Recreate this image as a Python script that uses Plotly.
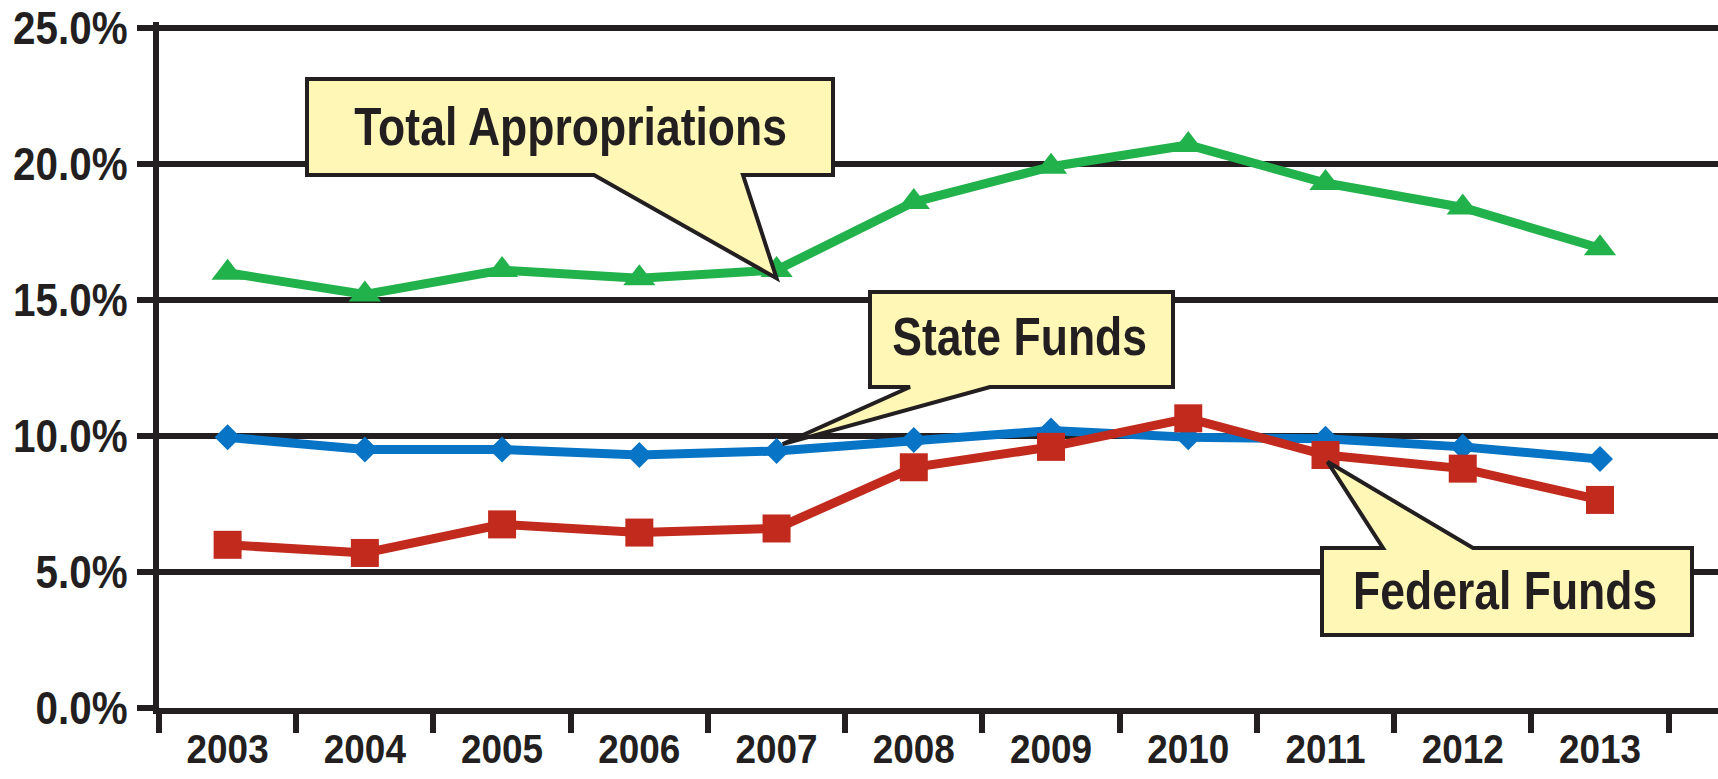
import plotly.graph_objects as go

years = ["2003", "2004", "2005", "2006", "2007", "2008", "2009", "2010", "2011", "2012", "2013"]
total = [16.0, 15.2, 16.1, 15.8, 16.1, 18.6, 19.9, 20.7, 19.3, 18.4, 16.9]
state = [9.95, 9.5, 9.5, 9.3, 9.45, 9.85, 10.2, 9.95, 9.9, 9.6, 9.15]
federal = [6.0, 5.7, 6.75, 6.45, 6.6, 8.85, 9.6, 10.65, 9.3, 8.8, 7.65]
ytick_vals = [0, 5, 10, 15, 20, 25]
ytick_text = ["0.0%", "5.0%", "10.0%", "15.0%", "20.0%", "25.0%"]

W, H = 1718, 779
ML, MR, MT, MB = 159, 0, 22, 71
XMIN, XMAX = -0.5, 10.86
YMIN, YMAX = 0, 25.22
INK = "#231F20"
FILL = "#FEF7B6"
FONT = "Liberation Sans, Arial, sans-serif"
GREEN, BLUE, RED = "#22B24C", "#0874C6", "#C12A1C"

pw = W - ML - MR
ph = H - MT - MB


def px(x):
    return (x - ML) / pw


def py(y):
    return 1 - (y - MT) / ph


def dx(i):
    return (i - XMIN) / (XMAX - XMIN)


def dy(v):
    return (v - YMIN) / (YMAX - YMIN)


fig = go.Figure()
fig.add_trace(go.Scatter(x=years, y=total, mode="lines+markers", name="Total Appropriations",
                         line=dict(color=GREEN, width=9),
                         marker=dict(symbol="triangle-up", size=28, color=GREEN)))
fig.add_trace(go.Scatter(x=years, y=state, mode="lines+markers", name="State Funds",
                         line=dict(color=BLUE, width=9),
                         marker=dict(symbol="diamond", size=20, color=BLUE)))
fig.add_trace(go.Scatter(x=years, y=federal, mode="lines+markers", name="Federal Funds",
                         line=dict(color=RED, width=9),
                         marker=dict(symbol="square", size=28, color=RED)))


def path(points):
    return "M " + " L ".join(f"{a:.5f},{b:.5f}" for a, b in points) + " Z"


# Callout: Total Appropriations (tip at 2007)
tip = (dx(4), dy(total[4] - 0.3))
p1 = [(px(307), py(79)), (px(833), py(79)), (px(833), py(175)), (px(743), py(175)), tip,
      (px(594), py(175)), (px(307), py(175))]
# Callout: State Funds (tip at 2007)
tip = (dx(4 + 0.045), dy(state[4] + 0.25))
p2 = [(px(870), py(292)), (px(1173), py(292)), (px(1173), py(387)), (px(990), py(387)), tip,
      (px(910), py(387)), (px(870), py(387))]
# Callout: Federal Funds (tip at 2011)
tip = (dx(8 + 0.015), dy(federal[8] - 0.25))
p3 = [(px(1322), py(548)), (px(1383), py(548)), tip, (px(1473), py(548)), (px(1692), py(548)),
      (px(1692), py(635)), (px(1322), py(635))]

shapes = []
for p in (p1, p2, p3):
    shapes.append(dict(type="path", xref="paper", yref="paper", path=path(p),
                       fillcolor=FILL, line=dict(color=INK, width=4), layer="above"))

afont = dict(family=FONT, size=53, color=INK, weight="bold")
annotations = [
    dict(text="Total Appropriations", x=px(570), y=py(126), xref="paper", yref="paper",
         xanchor="center", yanchor="middle", showarrow=False, font=afont),
    dict(text="State Funds", x=px(1019), y=py(336), xref="paper", yref="paper",
         xanchor="center", yanchor="middle", showarrow=False, font=afont),
    dict(text="Federal Funds", x=px(1505), y=py(590), xref="paper", yref="paper",
         xanchor="center", yanchor="middle", showarrow=False, font=afont),
]

fig.update_layout(
    width=W, height=H,
    margin=dict(l=ML, r=MR, t=MT, b=MB, pad=0),
    paper_bgcolor="white", plot_bgcolor="white",
    showlegend=False,
    shapes=shapes, annotations=annotations,
    font=dict(family=FONT, color=INK),
    xaxis=dict(type="category", range=[XMIN, XMAX], tickson="boundaries", automargin=False,
               showgrid=False, zeroline=False,
               showline=True, linecolor=INK, linewidth=6,
               ticks="outside", ticklen=19, tickwidth=6, tickcolor=INK,
               ticklabelstandoff=0, ticklabeloverflow="allow",
               tickfont=dict(family=FONT, size=41, color=INK, weight="bold")),
    yaxis=dict(range=[YMIN, YMAX], tickvals=ytick_vals, ticktext=ytick_text, automargin=False,
               showgrid=True, gridcolor=INK, gridwidth=6, zeroline=False,
               showline=True, linecolor=INK, linewidth=6,
               ticks="outside", ticklen=16, tickwidth=6, tickcolor=INK,
               ticklabelstandoff=0, ticklabeloverflow="allow",
               tickfont=dict(family=FONT, size=47, color=INK, weight="bold")),
)

# Page without body margin, and bold text condensed horizontally
# (the original uses a condensed bold face).
post_script = """
(function(){
  document.documentElement.style.margin = '0';
  document.body.style.margin = '0';
  document.body.style.overflow = 'hidden';
  var gd = document.getElementById('{plot_id}');
  function sq(){
    gd.querySelectorAll('g.xtick text, g.ytick text, text.annotation-text').forEach(function(t){
      var tr = t.getAttribute('transform') || '';
      if (tr.indexOf('scale(') >= 0) return;
      var b = t.getBBox();
      if (!b.width) return;
      var isY = t.closest('g.ytick') !== null;
      var isX = t.closest('g.xtick') !== null;
      var S = isY ? 0.86 : (isX ? 0.9 : 0.84);
      var cx = isY ? (b.x + b.width) : (b.x + b.width / 2);
      t.setAttribute('transform', tr + ' translate(' + cx + ',0) scale(' + S + ',1) translate(' + (-cx) + ',0)');
    });
  }
  sq();
  if (gd.on) gd.on('plotly_afterplot', sq);
})();
"""

fig.write_html("out.html", post_script=post_script, config={"displayModeBar": False})
